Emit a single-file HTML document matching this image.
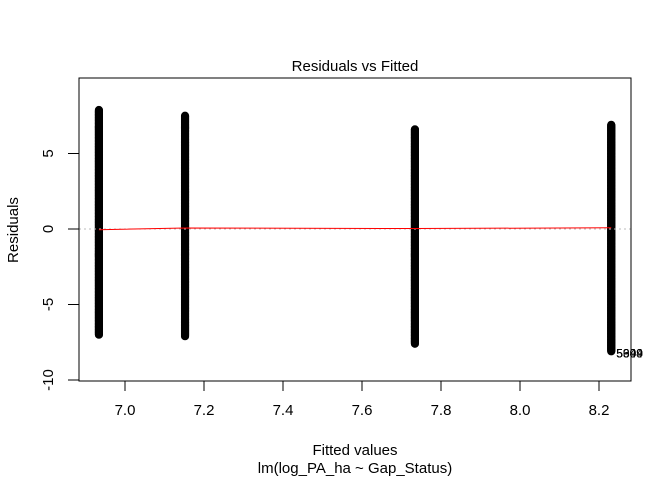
<!DOCTYPE html>
<html><head><meta charset="utf-8"><style>
body{margin:0;background:#fff}
svg text{font-family:"Liberation Sans",Arial,sans-serif;fill:#000}
</style></head><body>
<svg id="c" width="672" height="480">
<rect x="0" y="0" width="672" height="480" fill="#fff"/>
<text x="355" y="71" font-size="15" text-anchor="middle">Residuals vs Fitted</text>
<text x="0" y="0" font-size="15" text-anchor="middle" transform="translate(18,230) rotate(-90)">Residuals</text>
<text x="355" y="455" font-size="15" text-anchor="middle">Fitted values</text>
<text x="355" y="473" font-size="15" text-anchor="middle">lm(log_PA_ha ~ Gap_Status)</text>
<g id="axes"></g>
<g id="pts"></g>
<g id="lines"></g>
<rect x="79" y="78" width="552" height="303" fill="none" stroke="#000" stroke-width="1"/>
</svg>
<script>
const groupFitted=[6.934,7.152,7.734,8.231];
const groupMax=[7.9,7.5,6.6,6.9];
const groupMin=[-7.0,-7.1,-7.6,-8.1];
const smoothY=[-0.05,0.07,0.03,0.08];
const xTicks=[7.0,7.2,7.4,7.6,7.8,8.0,8.2];
const yTicks=[-10,-5,0,5];
const outlierLabels=["5999","5309","5644"];
const NS="http://www.w3.org/2000/svg";
const X=v=>125+(v-7)*395;
const Y=v=>229-v*15.1;
function mk(t,a,p){const e=document.createElementNS(NS,t);for(const k in a)e.setAttribute(k,a[k]);p.appendChild(e);return e;}
const ax=document.getElementById('axes'),pts=document.getElementById('pts'),ln=document.getElementById('lines');
xTicks.forEach(t=>{
 const l=mk('line',{x1:X(t),x2:X(t),y1:381,y2:391,stroke:'#000'},ax);
 
 
 const tx=mk('text',{x:X(t),y:415,'font-size':15,'text-anchor':'middle'},ax);tx.textContent=t.toFixed(1);
 
 
});
mk('line',{x1:X(7.0),x2:X(8.2),y1:381,y2:381,stroke:'#000'},ax);
yTicks.forEach(t=>{
 const l=mk('line',{x1:68,x2:79,y1:Y(t),y2:Y(t),stroke:'#000'},ax);
 
 
 const tx=mk('text',{x:0,y:0,'font-size':15,'text-anchor':'middle',transform:`translate(53,${Y(t)}) rotate(-90)`},ax);tx.textContent=t;
 
 
});
const zl=mk('line',{x1:79,x2:631,y1:Y(0),y2:Y(0),stroke:'#bbb','stroke-dasharray':'2,3'},ln);


groupFitted.forEach((f,i)=>{
 const g=mk('g',{},pts);
 
 
 for(let v=groupMin[i];v<=groupMax[i]+1e-9;v+=0.04){
  mk('circle',{cx:X(f),cy:Y(v),r:3.6,fill:'none',stroke:'#000','stroke-width':1},g);
 }
});
const sm=mk('polyline',{points:groupFitted.map((f,i)=>X(f)+','+Y(smoothY[i])).join(' '),fill:'none',stroke:'#f00','stroke-width':1},ln);


outlierLabels.forEach(s=>{
 const t=mk('text',{x:X(groupFitted[3])+5,y:Y(groupMin[3])+6,'font-size':12},ln);t.textContent=s;
 
 
});
</script>
</body></html>
